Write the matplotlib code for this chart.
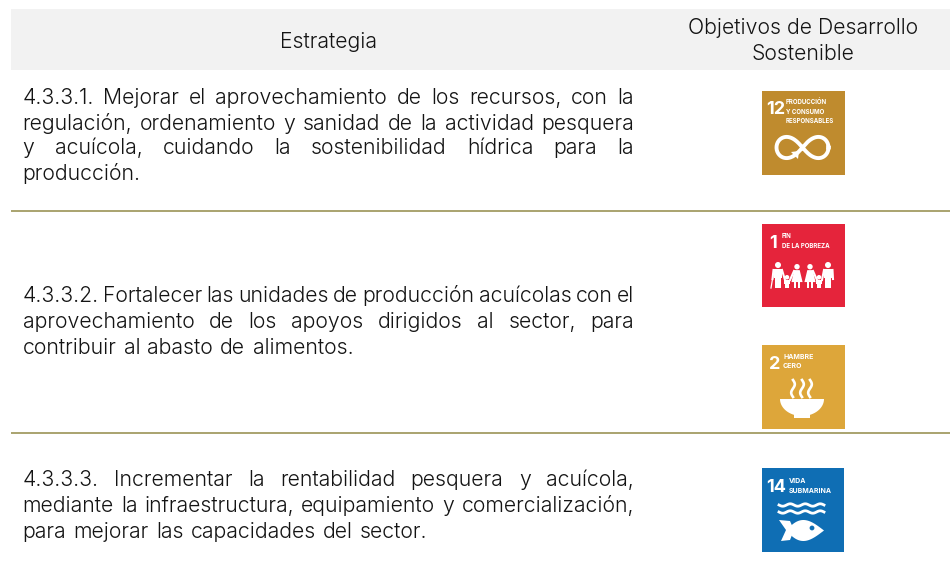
from matplotlib import pyplot as plt
from matplotlib.patches import Rectangle, Circle, Polygon
import numpy as np

# table content
header_left = "Estrategia"
header_right = ["Objetivos de Desarrollo", "Sostenible"]

rows = [
    ["4.3.3.1. Mejorar el aprovechamiento de los recursos, con la",
     "regulación, ordenamiento y sanidad de la actividad pesquera",
     "y acuícola, cuidando la sostenibilidad hídrica para la",
     "producción."],
    ["4.3.3.2. Fortalecer las unidades de producción acuícolas con el",
     "aprovechamiento de los apoyos dirigidos al sector, para",
     "contribuir al abasto de alimentos."],
    ["4.3.3.3. Incrementar la rentabilidad pesquera y acuícola,",
     "mediante la infraestructura, equipamiento y comercialización,",
     "para mejorar las capacidades del sector."],
]
row_baselines = [[103.5, 129.5, 154.5, 180.5], [302.5, 328.5, 353.5], [486.5, 511.5, 537.5]]
rule_y = [211, 433]

FONT = "Inter"
FS = 15.3
INK = "#141414"

fig = plt.figure(figsize=(9.5, 5.74), dpi=100)
ax = fig.add_axes([0, 0, 1, 1])
ax.set_xlim(0, 950)
ax.set_ylim(574, 0)
ax.axis("off")


def body_text(x, y, s, **kw):
    return ax.text(x, y, s, fontsize=FS, family=FONT, weight=300, color=INK, va="baseline", **kw)


def justified(words_line, y, x0=22.5, x1=634, justify=True):
    """Place one line word by word so that it fills x0..x1."""
    words = words_line.split(" ")
    rend = fig.canvas.get_renderer()
    items = [body_text(0, y, w) for w in words]
    widths = [t.get_window_extent(rend).width for t in items]
    if justify:
        gap = (x1 - x0 - sum(widths)) / (len(words) - 1)
    else:
        gap = FS * 100 / 72 * 0.34
    x = x0
    for t, w in zip(items, widths):
        t.set_x(x)
        x += w + gap


# Header band and rules
ax.add_patch(Rectangle((11, 9), 939, 61, color="#f2f2f2", lw=0))
body_text(329, 47.5, header_left, ha="center")
body_text(803, 34, header_right[0], ha="center")
body_text(803, 60, header_right[1], ha="center")
for y in rule_y:
    ax.plot([11, 950], [y, y], color="#a9a36f", lw=1.4, solid_capstyle="butt")

# Body text
for lines, bases in zip(rows, row_baselines):
    for i, (line, y) in enumerate(zip(lines, bases)):
        justified(line, y, justify=i < len(lines) - 1)


def icon(x, y, w, h, color, num, label, num_x, num_base, label_x, label_y, label_size, step):
    ax.add_patch(Rectangle((x, y), w, h, color=color, lw=0))
    ax.text(x + num_x, y + num_base, num, color="white", fontsize=13, weight="bold",
            family=FONT, va="baseline")
    for i, s in enumerate(label):
        ax.text(x + label_x, y + label_y + i * step, s, color="white", fontsize=label_size,
                weight="bold", family=FONT, va="baseline")


def person(x, top, bottom, w, dress=False):
    ax.add_patch(Circle((x, top + w * 0.3), w * 0.3, color="white", lw=0))
    s = top + w * 0.68
    m = s + (bottom - s) * 0.5
    if dress:
        ax.add_patch(Polygon([(x - w * 0.3, s), (x + w * 0.3, s), (x + w * 0.62, m + 3),
                              (x - w * 0.62, m + 3)], color="white", lw=0))
        ax.add_patch(Rectangle((x - w * 0.32, m + 2), w * 0.25, bottom - m - 2, color="white", lw=0))
        ax.add_patch(Rectangle((x + w * 0.07, m + 2), w * 0.25, bottom - m - 2, color="white", lw=0))
    else:
        ax.add_patch(Rectangle((x - w * 0.42, s), w * 0.84, m - s, color="white", lw=0))
        ax.add_patch(Rectangle((x - w * 0.32, m), w * 0.3, bottom - m, color="white", lw=0))
        ax.add_patch(Rectangle((x + w * 0.02, m), w * 0.3, bottom - m, color="white", lw=0))


# ODS 12
icon(762, 91, 83, 84, "#bf8b2e", "12", ["PRODUCCIÓN", "Y CONSUMO", "RESPONSABLES"],
     4, 23, 24, 13, 4.4, 9.6)
t = np.linspace(0, 2 * np.pi, 200)
d = 1 + np.sin(t) ** 2
ax.plot(802.5 + 26 * np.cos(t) / d, 147.5 + 30 * np.sin(t) * np.cos(t) / d, color="white", lw=2.8)
ax.add_patch(Polygon([(791, 152), (799, 151), (798, 159)], color="white", lw=0))

# ODS 1
icon(762, 224, 83, 83, "#e5243b", "1", ["FIN", "DE LA POBREZA"], 7, 24, 20, 14, 4.4, 10)
person(778, 262, 288, 10)
person(787, 275, 288, 7.5)
person(797, 264, 288, 9, dress=True)
person(810, 264, 288, 9, dress=True)
person(819, 275, 288, 7.5)
person(828, 262, 288, 10)
for x0, y0, x1, y1 in [(773.5, 270, 772.5, 279), (782, 270, 785, 280), (790, 280, 794, 271),
                       (813, 271, 817, 280), (822, 280, 824, 270), (832.5, 270, 833, 279)]:
    ax.plot([x0, x1], [y0, y1], color="white", lw=1.5)
ax.plot([773, 771], [276, 288], color="white", lw=0.9)

# ODS 2
icon(762, 345, 83, 84, "#dda63a", "2", ["HAMBRE", "CERO"], 7, 24, 21, 14, 5.0, 9.5)
a = np.linspace(0, np.pi, 60)
ax.add_patch(Polygon(np.column_stack([802 + 22 * np.cos(a), 399 + 17 * np.sin(a)]), color="white", lw=0))
ax.add_patch(Rectangle((794, 413), 16, 5, color="white", lw=0))
sy = np.linspace(380, 397, 40)
for sx in [793, 802, 810]:
    ax.plot(sx + 1.8 * np.sin((sy - 380) / 17 * 2 * np.pi), sy, color="white", lw=1.9)

# ODS 14
icon(762, 468, 82, 84, "#0f6eb4", "14", ["VIDA", "SUBMARINA"], 4, 24, 27, 15, 5.0, 10)
wx = np.linspace(779, 824, 120)
for wy in [505, 512]:
    ax.plot(wx, wy + 1.2 * np.sin((wx - 779) / 15 * 2 * np.pi), color="white", lw=2)
u = np.linspace(0, 1, 60)
fx = 787 + 37 * u
fh = 10.5 * np.sin(np.pi * u ** 0.85)
ax.add_patch(Polygon(np.column_stack([np.r_[fx, fx[::-1]], np.r_[530.5 - fh, (530.5 + fh)[::-1]]]),
                     color="white", lw=0))
ax.add_patch(Polygon([(779, 520), (790, 521), (794, 530), (790, 540), (781, 541), (786, 530)],
                     color="white", lw=0))
ax.add_patch(Circle((812, 528), 2.4, color="#0f6eb4", lw=0))

plt.savefig("out.png", dpi=100)
